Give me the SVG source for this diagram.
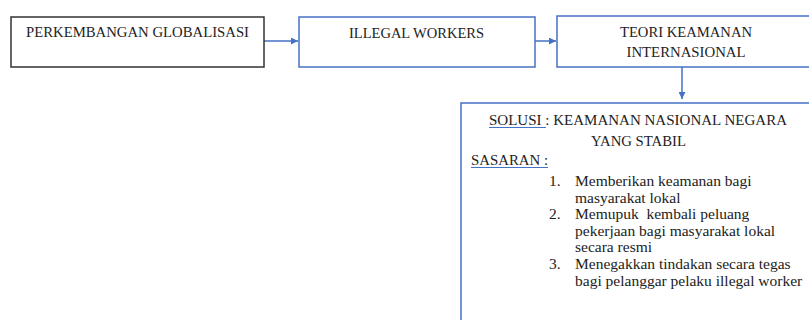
<svg xmlns="http://www.w3.org/2000/svg" width="809" height="320" viewBox="0 0 809 320">
<style>
.box{fill:#fff;stroke:#4472C4;stroke-width:1.5}
.h{font-family:"Liberation Serif","Times New Roman",serif;font-size:14.5px;fill:#222}
.t{font-family:"Liberation Serif","Times New Roman",serif;font-size:15.5px;fill:#222}
.ul{stroke:#4472C4;stroke-width:1.2;fill:none}
.con{stroke:#4472C4;stroke-width:1.5;fill:none;marker-end:url(#ah)}
</style>
<defs>
<marker id="ah" viewBox="0 0 10 10" refX="10" refY="5" markerWidth="7" markerHeight="7" markerUnits="userSpaceOnUse" orient="auto">
<path d="M0,0 L10,5 L0,10 z" fill="#4472C4"/>
</marker>
</defs>
<rect width="809" height="320" fill="#fff"/>
<g id="connectors">
<line class="con" x1="264" y1="41" x2="298" y2="41"/>
<line class="con" x1="535" y1="41" x2="556" y2="41"/>
<line class="con" x1="682" y1="67" x2="682" y2="99"/>
</g>
<g id="node1">
<rect x="11" y="17" width="253" height="50" fill="#fff" stroke="#333" stroke-width="1.5"/>
<text class="h" x="137.5" y="37" text-anchor="middle" textLength="223" lengthAdjust="spacingAndGlyphs">PERKEMBANGAN GLOBALISASI</text>
</g>
<g id="node2">
<rect class="box" x="299" y="17" width="236" height="50"/>
<text class="h" x="416.5" y="38" text-anchor="middle" textLength="135" lengthAdjust="spacingAndGlyphs">ILLEGAL WORKERS</text>
</g>
<g id="node3">
<rect class="box" x="557" y="16" width="262" height="51"/>
<text class="h" x="686" y="37" text-anchor="middle" textLength="132" lengthAdjust="spacingAndGlyphs">TEORI KEAMANAN</text>
<text class="h" x="686" y="57" text-anchor="middle" textLength="119" lengthAdjust="spacingAndGlyphs">INTERNASIONAL</text>
</g>
<g id="node4">
<rect class="box" x="461" y="103" width="360" height="230"/>
<text class="h" x="489" y="125" textLength="298" lengthAdjust="spacingAndGlyphs">SOLUSI : KEAMANAN NASIONAL NEGARA</text>
<line class="ul" x1="489" y1="127.5" x2="546" y2="127.5"/>
<text class="h" x="638.5" y="146" text-anchor="middle" textLength="95" lengthAdjust="spacingAndGlyphs">YANG STABIL</text>
<text class="h" x="471" y="165" textLength="77" lengthAdjust="spacingAndGlyphs">SASARAN :</text>
<line class="ul" x1="471" y1="167.5" x2="548" y2="167.5"/>
<text class="t" x="549" y="186">1.</text>
<text class="t" x="575" y="186">Memberikan keamanan bagi</text>
<text class="t" x="575" y="202.5">masyarakat lokal</text>
<text class="t" x="549" y="219">2.</text>
<text class="t" x="575" y="219" xml:space="preserve">Memupuk  kembali peluang</text>
<text class="t" x="575" y="235.5">pekerjaan bagi masyarakat lokal</text>
<text class="t" x="575" y="252">secara resmi</text>
<text class="t" x="549" y="269">3.</text>
<text class="t" x="575" y="269">Menegakkan tindakan secara tegas</text>
<text class="t" x="575" y="285.5">bagi pelanggar pelaku illegal worker</text>
</g>
</svg>
